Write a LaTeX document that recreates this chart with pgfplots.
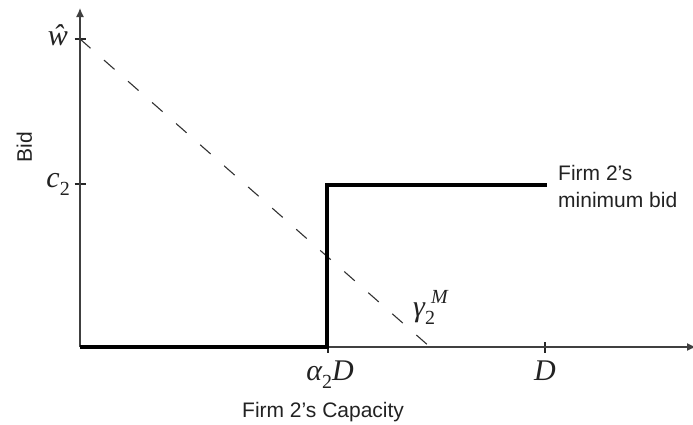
\documentclass[border=0pt]{standalone}
\usepackage{pgfplots}
\pgfplotsset{compat=1.18}
\usepackage{fontspec}
\usetikzlibrary{arrows.meta}
\setmainfont{Liberation Sans}
\newfontfamily\tnr{Liberation Serif}
\newcommand\mfont{\tnr\itshape\fontsize{30}{34}\selectfont}
\newcommand\subfont{\tnr\upshape\fontsize{20}{20}\selectfont}
\newcommand\supfont{\tnr\itshape\fontsize{20}{20}\selectfont}
\newcommand\sfont{\fontsize{21}{27}\selectfont}
\newcommand\msub[1]{\raisebox{-8pt}{\subfont #1}}
\definecolor{txt}{HTML}{222222}
\begin{document}
\begin{tikzpicture}
\useasboundingbox (0,0) rectangle (693pt,424pt);
\begin{axis}[
  at={(80pt,77pt)}, anchor=south west,
  scale only axis, width=616pt, height=339pt,
  xmin=0, xmax=616, ymin=0, ymax=339,
  axis lines=left,
  axis line style={draw=black!75, line width=1.3pt, -{Latex[length=9pt,width=8pt]}},
  xtick={248,465}, ytick={163,308},
  xticklabels={}, yticklabels={},
  major tick length=11pt, tick align=center,
  tick style={draw=black!85, line width=1.2pt},
  clip=false,
]
\addplot[black!80, line width=1.1pt, dash pattern=on 14pt off 18pt] coordinates {(0,308) (350,0)};
\addplot[black, line width=3.6pt, line join=miter, line cap=butt] coordinates {(0,0) (247,0) (247,162) (467,162)};

\node[anchor=base east, inner sep=0pt, text=txt] at (axis cs:-12,302) {\mfont ŵ};
\node[anchor=base east, inner sep=0pt, text=txt] at (axis cs:-10,160) {\mfont c\msub{2}};
\node[anchor=base, inner sep=0pt, text=txt] at (axis cs:250,-33) {\mfont α\msub{2}D};
\node[anchor=base, inner sep=0pt, text=txt] at (axis cs:465,-33) {\mfont D};
\node[anchor=base west, inner sep=0pt, text=txt] at (axis cs:333,31) {\mfont γ\rlap{\hspace{6pt}\raisebox{13pt}{\supfont M}}\msub{2}};
\node[anchor=base west, inner sep=0pt, text=txt, font=\sfont] at (axis cs:478,167) {Firm 2's};
\node[anchor=base west, inner sep=0pt, text=txt, font=\sfont] at (axis cs:478,140) {minimum bid};
\node[anchor=base west, inner sep=0pt, text=txt, font=\sfont] at (axis cs:162,-70) {Firm 2's Capacity};
\node[anchor=base, rotate=90, inner sep=0pt, text=txt, font=\sfont] at (axis cs:-48,200) {Bid};
\end{axis}
\end{tikzpicture}
\end{document}
